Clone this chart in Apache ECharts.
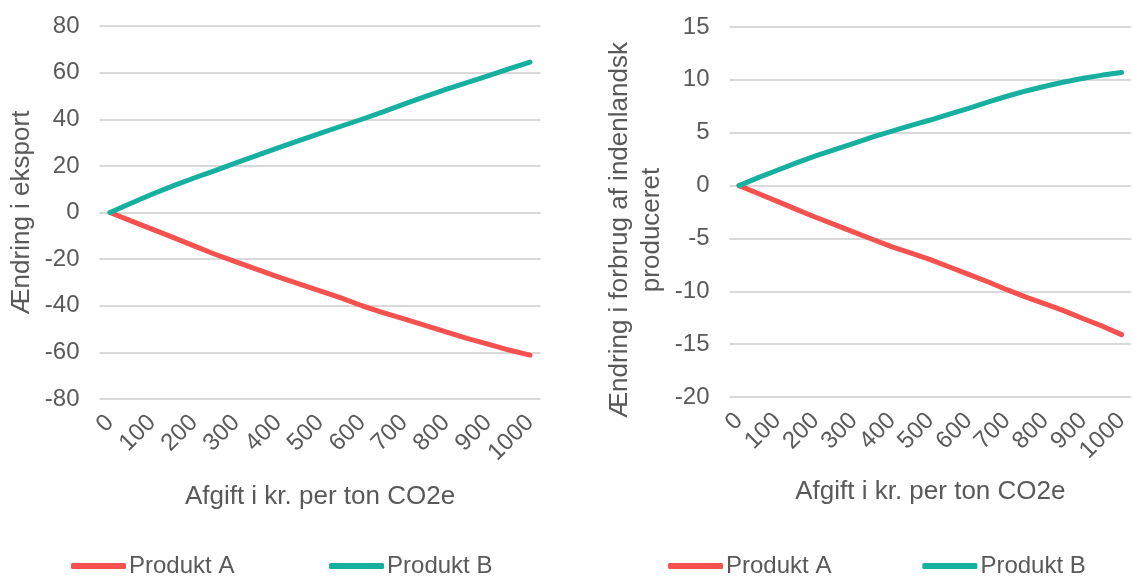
<!DOCTYPE html>
<html>
<head>
<meta charset="utf-8">
<script src="https://cdn.jsdelivr.net/npm/echarts@6/dist/echarts.min.js"></script>
<style>
  html, body { margin: 0; padding: 0; background: #ffffff; }
  #chart { width: 1132px; height: 576px; }
</style>
</head>
<body>
<div id="chart"></div>
<script>
// Afgift i kr. per ton CO2e (0 .. 1000 in steps of 50)
const categories = ['0', '50', '100', '150', '200', '250', '300', '350', '400', '450', '500',
                    '550', '600', '650', '700', '750', '800', '850', '900', '950', '1000'];

// Ændring i eksport
const eksportA = [0, -3.6, -7.1, -10.7, -14.3, -17.9, -21.2, -24.4, -27.6, -30.6, -33.6,
                  -36.6, -40.0, -42.9, -45.6, -48.4, -51.2, -54.0, -56.5, -59.0, -61.2];
const eksportB = [0, 4.0, 7.8, 11.4, 14.8, 18.0, 21.3, 24.5, 27.7, 30.8, 33.9,
                  37.0, 40.0, 43.2, 46.5, 49.7, 52.8, 55.7, 58.6, 61.6, 64.5];

// Ændring i forbrug af indenlandsk produceret
const forbrugA = [0, -0.75, -1.5, -2.25, -3.0, -3.7, -4.4, -5.1, -5.8, -6.4, -7.0,
                  -7.7, -8.4, -9.1, -9.85, -10.55, -11.2, -11.85, -12.6, -13.3, -14.1];
const forbrugB = [0, 0.75, 1.45, 2.15, 2.8, 3.4, 4.0, 4.6, 5.15, 5.7, 6.2,
                  6.75, 7.3, 7.9, 8.45, 8.95, 9.4, 9.8, 10.15, 10.45, 10.7];

const seriesNames = ['Produkt A', 'Produkt B'];
const xTitle = 'Afgift i kr. per ton CO2e';
const leftTitle = 'Ændring i eksport';
const rightTitle = 'Ændring i forbrug af indenlandsk\nproduceret';

const RED = '#f4514f';
const TEAL = '#17b0a0';
const TEXT = '#595959';
const GRID = '#d9d9d9';
const FONT = '"Liberation Sans", Arial, sans-serif';

function xAxisFor(gridIndex, gap) {
  return {
    type: 'category',
    gridIndex: gridIndex,
    data: categories,
    boundaryGap: true,
    axisLine: { show: false },
    axisTick: { show: false },
    axisLabel: {
      interval: 1,
      rotate: 45,
      margin: 20,
      color: TEXT,
      fontSize: 24,
      fontFamily: FONT
    },
    name: xTitle,
    nameLocation: 'middle',
    nameGap: gap,
    nameTextStyle: { color: TEXT, fontSize: 26, fontFamily: FONT }
  };
}

function yAxisFor(gridIndex, min, max, interval, name, gap, extra) {
  return {
    type: 'value',
    gridIndex: gridIndex,
    min: min,
    max: max,
    interval: interval,
    axisLine: { show: false },
    axisTick: { show: false },
    splitLine: { show: true, lineStyle: { color: GRID, width: 2 } },
    axisLabel: { margin: 20, color: TEXT, fontSize: 24, fontFamily: FONT },
    name: name,
    nameLocation: 'middle',
    nameGap: gap,
    nameTextStyle: Object.assign({ color: TEXT, fontSize: 26, fontFamily: FONT, lineHeight: 32 }, extra || {})
  };
}

function lineSeries(name, data, color, axisIndex) {
  return {
    name: name,
    type: 'line',
    xAxisIndex: axisIndex,
    yAxisIndex: axisIndex,
    data: data,
    showSymbol: false,
    symbol: 'none',
    smooth: false,
    lineStyle: { color: color, width: 5, cap: 'round', join: 'round' },
    itemStyle: { color: color },
    animation: false
  };
}

const legendBase = {
  orient: 'horizontal',
  icon: 'roundRect',
  itemWidth: 55,
  itemHeight: 6,
  padding: 0,
  textStyle: { color: TEXT, fontSize: 24, fontFamily: FONT, padding: [0, 0, 0, -2] },
  selectedMode: false
};

const chart = echarts.init(document.getElementById('chart'), null, { renderer: 'canvas' });

chart.setOption({
  backgroundColor: '#ffffff',
  animation: false,
  grid: [
    { left: 99.5, top: 26, width: 441, height: 373 },
    { left: 729.5, top: 27, width: 411, height: 370 }
  ],
  xAxis: [xAxisFor(0, 85), xAxisFor(1, 82)],
  yAxis: [
    yAxisFor(0, -80, 80, 20, leftTitle, 62),
    yAxisFor(1, -20, 15, 5, rightTitle, 62, { padding: [0, 36, 0, 0] })
  ],
  legend: [
    Object.assign({}, legendBase, {
      left: 71, top: 554, itemGap: 88,
      data: [
        { name: seriesNames[0] + ' ', itemStyle: { color: RED } },
        { name: seriesNames[1] + ' ', itemStyle: { color: TEAL } }
      ]
    }),
    Object.assign({}, legendBase, {
      left: 668, top: 554, itemGap: 91,
      data: [
        { name: seriesNames[0], itemStyle: { color: RED } },
        { name: seriesNames[1], itemStyle: { color: TEAL } }
      ]
    })
  ],
  series: [
    lineSeries(seriesNames[0] + ' ', eksportA, RED, 0),
    lineSeries(seriesNames[1] + ' ', eksportB, TEAL, 0),
    lineSeries(seriesNames[0], forbrugA, RED, 1),
    lineSeries(seriesNames[1], forbrugB, TEAL, 1)
  ]
});
</script>
</body>
</html>
